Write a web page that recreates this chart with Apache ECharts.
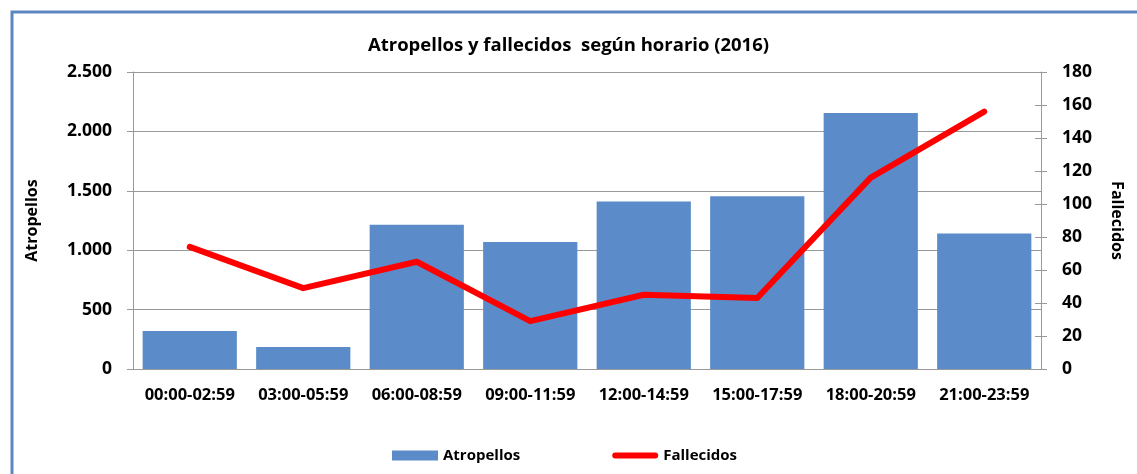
<!DOCTYPE html>
<html lang="es">
<head>
<meta charset="UTF-8">
<title>Atropellos y fallecidos</title>
<style>
  html, body { margin: 0; padding: 0; background: #fff; }
  #chart { width: 1137px; height: 474px; }
</style>
</head>
<body>
<div id="chart"></div>
<script src="https://cdn.jsdelivr.net/npm/echarts@6/dist/echarts.min.js"></script>
<script>
  var horarios = ['00:00-02:59', '03:00-05:59', '06:00-08:59', '09:00-11:59',
                  '12:00-14:59', '15:00-17:59', '18:00-20:59', '21:00-23:59'];
  var atropellos = [320, 185, 1215, 1070, 1410, 1455, 2155, 1140];
  var fallecidos = [74, 49, 65, 29, 45, 43, 116, 156];

  var fuente = '"Open Sans", "Noto Sans", sans-serif';

  // formato con punto de miles
  function miles(v) {
    return String(v).replace(/\B(?=(\d{3})+(?!\d))/g, '.');
  }

  var chart = echarts.init(document.getElementById('chart'));
  var option = {
    animation: false,
    textStyle: { fontFamily: fuente },
    graphic: [{
      type: 'rect',
      shape: { x: 12, y: 12, width: 1200, height: 500 },
      style: { fill: 'none', stroke: '#5b86c0', lineWidth: 3 },
      silent: true
    }],
    title: {
      text: 'Atropellos y fallecidos  según horario (2016)',
      left: 'center',
      top: 31,
      textStyle: { fontSize: 18.5, fontWeight: 'bold', color: '#000', fontFamily: fuente }
    },
    legend: {
      bottom: 6,
      left: 387,
      itemGap: 92,
      itemWidth: 46,
      itemHeight: 10,
      textStyle: { fontSize: 15, fontWeight: 'bold', color: '#000', fontFamily: fuente },
      data: [
        { name: 'Atropellos', icon: 'rect' },
        { name: 'Fallecidos', icon: 'path://M3,0 L43,0 A3,3 0 0 1 43,6 L3,6 A3,3 0 0 1 3,0 Z', itemStyle: { color: '#ff0000' } }
      ]
    },
    grid: { left: 133, right: 96, top: 72, bottom: 105, outerBoundsMode: 'none', containLabel: false },
    xAxis: {
      type: 'category',
      data: horarios,
      axisLine: { lineStyle: { color: '#999', width: 1 } },
      axisTick: { show: false },
      axisLabel: { interval: 0, hideOverlap: false, color: '#000', fontSize: 16.5, fontWeight: 'bold', margin: 18, fontFamily: fuente }
    },
    yAxis: [{
      type: 'value',
      name: 'Atropellos',
      nameLocation: 'middle',
      nameGap: 93,
      nameRotate: 90,
      nameTextStyle: { color: '#000', fontSize: 16, fontWeight: 'bold', fontFamily: fuente },
      min: 0, max: 2500, interval: 500,
      axisLine: { show: true, lineStyle: { color: '#999' } },
      axisTick: { show: true, length: 6, lineStyle: { color: '#999' } },
      splitLine: { lineStyle: { color: '#999' } },
      axisLabel: { color: '#000', fontSize: 17.5, fontWeight: 'bold', margin: 21, fontFamily: fuente, formatter: miles }
    }, {
      type: 'value',
      name: 'Fallecidos',
      nameLocation: 'middle',
      nameGap: 68,
      nameRotate: -90,
      nameTextStyle: { color: '#000', fontSize: 16, fontWeight: 'bold', fontFamily: fuente },
      min: 0, max: 180, interval: 20,
      axisLine: { show: true, lineStyle: { color: '#999' } },
      axisTick: { show: true, length: 6, lineStyle: { color: '#999' } },
      splitLine: { show: false },
      axisLabel: { color: '#000', fontSize: 17.5, fontWeight: 'bold', margin: 21, fontFamily: fuente }
    }, {
      // marcas hacia dentro del eje derecho (ticks cruzados)
      type: 'value',
      position: 'right',
      min: 0, max: 180, interval: 20,
      axisLine: { show: false },
      axisTick: { show: true, inside: true, length: 6, lineStyle: { color: '#999' } },
      splitLine: { show: false },
      axisLabel: { show: false }
    }],
    series: [{
      name: 'Atropellos',
      type: 'bar',
      data: atropellos,
      barCategoryGap: '17%',
      itemStyle: { color: '#5b8bc9' }
    }, {
      name: 'Fallecidos',
      type: 'line',
      yAxisIndex: 1,
      data: fallecidos,
      symbol: 'none',
      z: 3,
      lineStyle: { color: '#ff0000', width: 6, cap: 'round', join: 'round' },
      itemStyle: { color: '#ff0000' }
    }]
  };
  chart.setOption(option);
</script>
</body>
</html>
